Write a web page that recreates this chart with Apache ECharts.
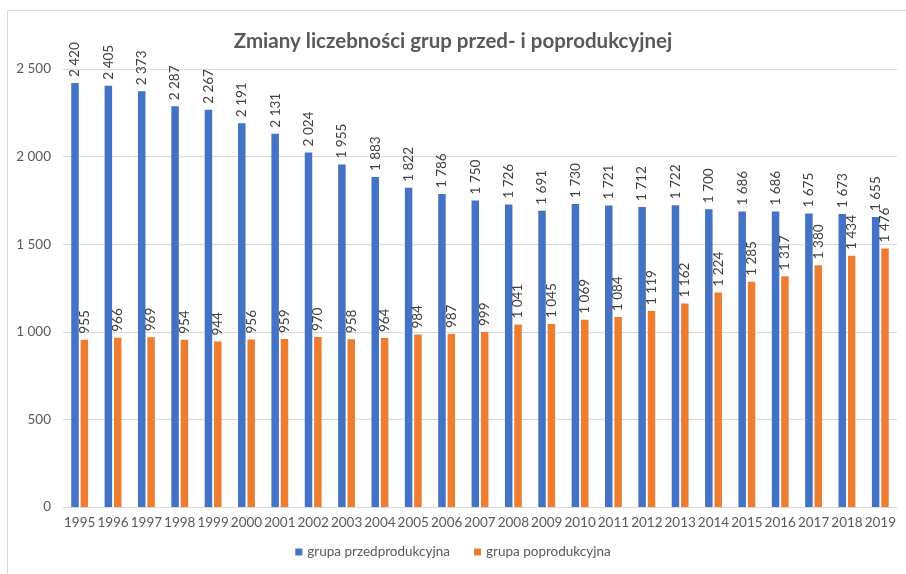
<!DOCTYPE html>
<html>
<head>
<meta charset="utf-8">
<script src="https://cdn.jsdelivr.net/npm/echarts@6/dist/echarts.min.js"></script>
<style>
	html, body { margin: 0; padding: 0; background: #fff; }
	#chartBox { width: 906px; height: 574px; }
</style>
</head>
<body>
<div id="chartBox"></div>
<script>
// lata
const years = ['1995','1996','1997','1998','1999','2000','2001','2002','2003','2004','2005','2006','2007',
	'2008','2009','2010','2011','2012','2013','2014','2015','2016','2017','2018','2019'];
// grupa przedprodukcyjna
const przed = [2420, 2405, 2373, 2287, 2267, 2191, 2131, 2024, 1955, 1883, 1822, 1786, 1750,
	1726, 1691, 1730, 1721, 1712, 1722, 1700, 1686, 1686, 1675, 1673, 1655];
// grupa poprodukcyjna
const po = [955, 966, 969, 954, 944, 956, 959, 970, 958, 964, 984, 987, 999,
	1041, 1045, 1069, 1084, 1119, 1162, 1224, 1285, 1317, 1380, 1434, 1476];
const seriesNames = ['grupa przedprodukcyjna', 'grupa poprodukcyjna'];

// liczby z odstepem tysiecy, np. 2 500
function fmt(v) {
	return String(v).replace(/\B(?=(\d{3})+(?!\d))/g, ' ');
}

const font = 'Lato, "Open Sans", sans-serif';

let myChart = echarts.init(document.getElementById('chartBox'));
let labelCfg = {
	show: true,
	position: 'top',
	rotate: 90,
	align: 'left',
	verticalAlign: 'middle',
	distance: 6,
	color: '#404040',
	fontSize: 13.5,
	fontFamily: font,
	formatter: function (p) { return fmt(p.value); }
};
let option = {
	backgroundColor: '#fff',
	color: ['#4472C4', '#ED7D31'],
	textStyle: { fontFamily: font },
	graphic: [{
		type: 'rect',
		shape: { x: 7.5, y: 10.5, width: 920, height: 600 },
		style: { fill: 'none', stroke: '#d9d9d9', lineWidth: 1 },
		silent: true
	}],
	title: {
		text: 'Zmiany liczebności grup przed- i poprodukcyjnej',
		left: 'center',
		top: 26,
		textStyle: { color: '#595959', fontSize: 20.5, fontWeight: 'bold', fontFamily: font }
	},
	legend: {
		bottom: 10,
		left: 'center',
		itemWidth: 7,
		itemHeight: 7,
		itemGap: 24,
		icon: 'rect',
		textStyle: { color: '#595959', fontSize: 13.5, fontFamily: font },
		data: seriesNames
	},
	grid: { left: 63, right: 9, top: 69, bottom: 67, containLabel: false },
	xAxis: {
		type: 'category',
		data: years,
		axisLine: { lineStyle: { color: '#d9d9d9' } },
		axisTick: { show: false },
		axisLabel: { color: '#595959', fontSize: 13.5, margin: 9, interval: 0, fontFamily: font }
	},
	yAxis: {
		type: 'value',
		min: 0,
		max: 2500,
		interval: 500,
		axisLine: { show: false },
		axisTick: { show: false },
		splitLine: { lineStyle: { color: '#d9d9d9' } },
		axisLabel: { color: '#595959', fontSize: 13.5, margin: 12, fontFamily: font, formatter: fmt }
	},
	series: [{
		name: seriesNames[0],
		type: 'bar',
		data: przed,
		barWidth: 7.5,
		barGap: '25%',
		label: labelCfg
	}, {
		name: seriesNames[1],
		type: 'bar',
		data: po,
		barWidth: 7.5,
		barGap: '25%',
		label: labelCfg
	}]
};
myChart.setOption(option, true);
</script>
</body>
</html>
